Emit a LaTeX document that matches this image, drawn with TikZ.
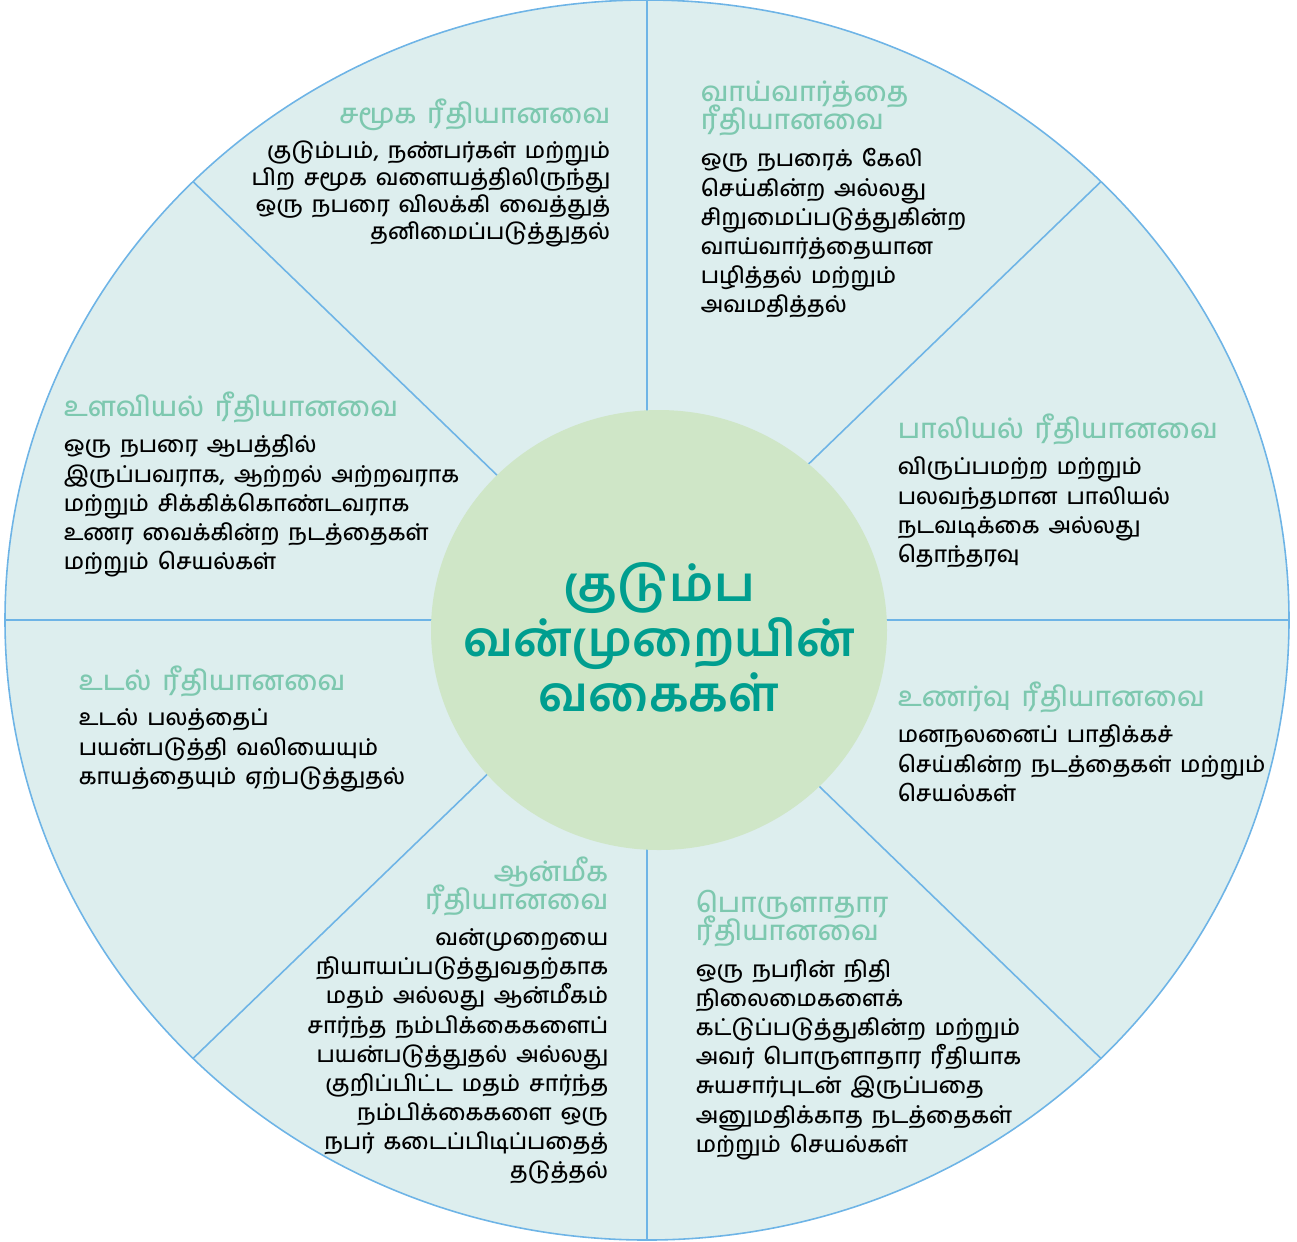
\documentclass[tikz,border=0pt]{standalone}
\usepackage{fontspec}
\usetikzlibrary{positioning}
\IfFontExistsTF{Hind Madurai Medium}
  {\newfontfamily\tamil[Script=Tamil, WordSpace=1.6]{Hind Madurai Medium}}
  {\newfontfamily\tamil[Script=Tamil, WordSpace=1.6]{Hind Madurai}}
\newfontfamily\tamilhub[Script=Tamil]{Hind Madurai}
\lineskiplimit=-20pt
\definecolor{sectorbg}{HTML}{DDEEEE}
\definecolor{spoke}{HTML}{6EB4E6}
\definecolor{hubbg}{HTML}{CFE6C7}
\definecolor{hubtxt}{HTML}{009E8F}
\definecolor{headtxt}{HTML}{7DC8AF}

\begin{document}
\begin{tikzpicture}[x=0.01cm, y=-0.01cm, line width=0.45pt,
    head/.style={inner sep=0pt, text=headtxt, font=\tamil\fontsize{7.8}{8.1}\selectfont},
    body/.style={inner sep=0pt, font=\tamil\fontsize{6.4}{8.3}\selectfont},
    hub/.style={inner sep=0pt, align=center, text=hubtxt, font=\tamilhub\bfseries\fontsize{13.8}{15.6}\selectfont}]
    \useasboundingbox (0,0) rectangle (1297,1241);
    \coordinate (c) at (647,620);
    \fill[sectorbg] (c) ellipse [x radius=642, y radius=620];
    \draw[spoke] (c) +(90:642 and 620) -- +(270:642 and 620);
    \draw[spoke] (c) +(0:642 and 620) -- +(180:642 and 620);
    \draw[spoke] (c) +(45:642 and 620) -- +(225:642 and 620);
    \draw[spoke] (c) +(135:642 and 620) -- +(315:642 and 620);
    \draw[spoke] (c) ellipse [x radius=642, y radius=620];
    \fill[hubbg] (659,630) ellipse [x radius=228, y radius=220];
    \node[hub] (hub) at (659,637) {குடும்ப\\வன்முறையின்\\வகைகள்};

    \node[head, anchor=north east] (socH) at (611,98) {சமூக ரீதியானவை};
    \node[body, align=right, below left=2.5pt and 0pt of socH.south east,
        font=\tamil\fontsize{6.4}{7.7}\selectfont] (socB)
        {குடும்பம், நண்பர்கள் மற்றும்\\பிற சமூக வளையத்திலிருந்து\\ஒரு நபரை விலக்கி வைத்துத்\\தனிமைப்படுத்துதல்};

    \node[head, align=left, anchor=north west] (vrbH) at (700,80) {வாய்வார்த்தை\\ரீதியானவை};
    \node[body, align=left, below right=3pt and 0pt of vrbH.south west] (vrbB)
        {ஒரு நபரைக் கேலி\\செய்கின்ற அல்லது\\சிறுமைப்படுத்துகின்ற\\வாய்வார்த்தையான\\பழித்தல் மற்றும்\\அவமதித்தல்};

    \node[head, anchor=north west] (psyH) at (63,391) {உளவியல் ரீதியானவை};
    \node[body, align=left, below right=3pt and 0pt of psyH.south west] (psyB)
        {ஒரு நபரை ஆபத்தில்\\இருப்பவராக, ஆற்றல் அற்றவராக\\மற்றும் சிக்கிக்கொண்டவராக\\உணர வைக்கின்ற நடத்தைகள்\\மற்றும் செயல்கள்};

    \node[head, anchor=north west] (sexH) at (897,413) {பாலியல் ரீதியானவை};
    \node[body, align=left, below right=3pt and 0pt of sexH.south west] (sexB)
        {விருப்பமற்ற மற்றும்\\பலவந்தமான பாலியல்\\நடவடிக்கை அல்லது\\தொந்தரவு};

    \node[head, anchor=north west] (phyH) at (78,665) {உடல் ரீதியானவை};
    \node[body, align=left, below right=3pt and 0pt of phyH.south west] (phyB)
        {உடல் பலத்தைப்\\பயன்படுத்தி வலியையும்\\காயத்தையும் ஏற்படுத்துதல்};

    \node[head, anchor=north west] (emoH) at (897,681) {உணர்வு ரீதியானவை};
    \node[body, align=left, below right=3pt and 0pt of emoH.south west] (emoB)
        {மனநலனைப் பாதிக்கச்\\செய்கின்ற நடத்தைகள் மற்றும்\\செயல்கள்};

    \node[head, align=right, anchor=north east] (spiH) at (609,856) {ஆன்மீக\\ரீதியானவை};
    \node[body, align=right, below left=3pt and 0pt of spiH.south east] (spiB)
        {வன்முறையை\\நியாயப்படுத்துவதற்காக\\மதம் அல்லது ஆன்மீகம்\\சார்ந்த நம்பிக்கைகளைப்\\பயன்படுத்துதல் அல்லது\\குறிப்பிட்ட மதம் சார்ந்த\\நம்பிக்கைகளை ஒரு\\நபர் கடைப்பிடிப்பதைத்\\தடுத்தல்};

    \node[head, align=left, anchor=north west] (ecoH) at (695,889) {பொருளாதார\\ரீதியானவை};
    \node[body, align=left, below right=3pt and 0pt of ecoH.south west] (ecoB)
        {ஒரு நபரின் நிதி\\நிலைமைகளைக்\\கட்டுப்படுத்துகின்ற மற்றும்\\அவர் பொருளாதார ரீதியாக\\சுயசார்புடன் இருப்பதை\\அனுமதிக்காத நடத்தைகள்\\மற்றும் செயல்கள்};
\end{tikzpicture}
\end{document}
